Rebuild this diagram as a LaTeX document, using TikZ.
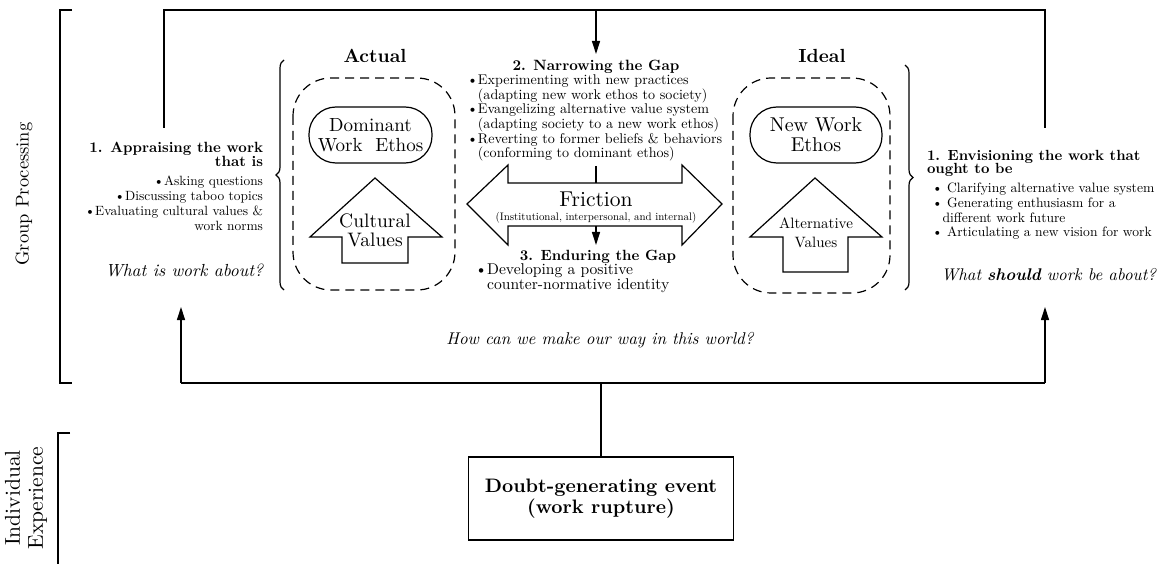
\documentclass[tikz,border=0pt]{standalone}
\usepackage{fontspec}
\setmainfont{lmroman10-regular.otf}[BoldFont=lmroman10-bold.otf,ItalicFont=lmroman10-italic.otf,BoldItalicFont=lmroman10-bolditalic.otf]
\usetikzlibrary{arrows.meta,decorations.pathreplacing}
\newcommand{\fsz}[2]{\fontsize{#1}{#2}\selectfont}
\begin{document}
\begin{tikzpicture}[x=1pt,y=-1pt,line width=1.2pt,
  tip/.style={-{Triangle[length=13pt,width=8pt]}},
  dashbox/.style={draw,dash pattern=on 9pt off 6pt,rounded corners=38pt},
  stadium/.style={draw,rounded corners=27pt},
  outline/.style={draw,line join=miter},
  txt/.style={inner sep=0pt,outer sep=0pt},
  brc/.style={decorate,decoration={brace,amplitude=8pt}}]
\useasboundingbox (0,0) rectangle (1162,564);

% side brackets and labels
\draw (72,10) -- (60,10) -- (60,383) -- (72,383);
\node[txt,rotate=90,font=\fsz{18.5}{22}] (gp) at (24,194) {Group Processing};
\draw (70,433) -- (58,433) -- (58,564);
\node[txt,rotate=90,align=center,font=\fsz{21.5}{23}] (ie) at (26,498) {Individual\\Experience};

% top loop
\coordinate (tl) at (164,128);
\coordinate (tlu) at (164,10);
\coordinate (tr) at (1045,128);
\coordinate (tru) at (1045,10);
\coordinate (tm) at (596,10);
\coordinate (tmend) at (596,54);
\draw (tl) -- (tlu) -- (tru) -- (tr);
\draw[tip] (tm) -- (tmend);

% bottom line and arrows
\coordinate (bl) at (181,383);
\coordinate (br) at (1045,383);
\coordinate (blup) at (181,307);
\coordinate (brup) at (1045,307);
\draw (bl) -- (br);
\draw[tip] (bl) -- (blup);
\draw[tip] (br) -- (brup);

% doubt box
\node[draw,minimum width=265pt,minimum height=83pt,align=center,
      font=\bfseries\fsz{19.5}{21}] (doubt) at (601,498.5) {Doubt-generating event\\(work rupture)};
\draw (doubt.north) -- (doubt.north |- bl);

\node[txt,font=\itshape\fsz{17}{19}] (how) at (600,340) {How can we make our way in this world?};

% left text block
\node[txt,anchor=north east,align=right,font=\bfseries\fsz{14.8}{14.5}] (lt) at (263,142)
  {1. Appraising the work\\that is};
\node[txt,anchor=north east,align=right,font=\fsz{13.4}{15}] (lb) at (263,176)
  {\textbullet Asking questions\\\textbullet Discussing taboo topics\\\textbullet Evaluating cultural values \&\\work norms};
\node[txt,anchor=north east,font=\itshape\fsz{17.5}{19}] (lq) at (263,264) {What is work about?};

% left brace
\draw[brc] (284,290) -- (284,60);

% Actual
\node[txt,font=\bfseries\fsz{19}{20}] (actual) at (375,56) {Actual};
\draw[dashbox] (293,78) rectangle (455,290);
\draw[stadium] (309,107) rectangle (432,163);
\node[txt,align=center,font=\fsz{19}{20}] (dwe) at (370.5,135) {Dominant\\Work\ \ Ethos};
\draw[outline] (375,178) -- (442,237) -- (408,237) -- (408,263) -- (342,263) -- (342,237) -- (310,237) -- cycle;
\node[txt,align=center,font=\fsz{19.5}{19}] (cv) at (375,230) {Cultural\\Values};

% Ideal
\node[txt,font=\bfseries\fsz{19}{20}] (ideal) at (822,56) {Ideal};
\draw[dashbox] (733,78) rectangle (890,293);
\draw[stadium] (750,107) rectangle (882,163);
\node[txt,align=center,font=\fsz{20}{20}] (nwe) at (816,135) {New Work\\Ethos};
\draw[outline] (815,178) -- (882,237) -- (848,237) -- (848,272) -- (783,272) -- (783,237) -- (750,237) -- cycle;
\node[txt,align=center,font=\fsz{15}{19}] (av) at (816,233) {Alternative\\Values};

% right brace
\draw[brc] (905,65) -- (905,290);

% right text block
\node[txt,anchor=north west,align=left,font=\bfseries\fsz{14.7}{13.5}] (rt) at (927,150)
  {1. Envisioning the work that\\ought to be};
\node[txt,anchor=north west,align=left,font=\fsz{13.6}{14.8}] (rb) at (932,183)
  {\textbullet\ Clarifying alternative value system\\\textbullet\ Generating enthusiasm for a\\\hphantom{\textbullet}different work future\\\textbullet\ Articulating a new vision for work};
\node[txt,anchor=north east,font=\itshape\fsz{16.9}{18}] (rq) at (1156,268) {What \textbf{should} work be about?};

% middle: narrowing
\node[txt,font=\bfseries\fsz{14.9}{16}] (ng) at (596,67) {2. Narrowing the Gap};
\node[txt,anchor=north west,align=left,font=\fsz{14.1}{14.6}] (nb) at (467,75)
  {\textbullet Experimenting with new practices\\\hphantom{\textbullet}(adapting new work ethos to society)\\
   \textbullet Evangelizing alternative value system\\\hphantom{\textbullet}(adapting society to a new work ethos)\\
   \textbullet Reverting to former beliefs \& behaviors\\\hphantom{\textbullet}(conforming to dominant ethos)};

% friction double arrow
\draw[outline] (467,204) -- (508,165) -- (508,183) -- (682,183) -- (682,165) -- (722,204)
   -- (682,245) -- (682,226) -- (508,226) -- (508,245) -- cycle;
\node[txt,font=\fsz{21.5}{22}] (fr) at (596,199) {Friction};
\node[txt,font=\fsz{10.9}{11}] (frs) at (596,218) {(Institutional, interpersonal, and internal)};
\coordinate (fa) at (596,166);
\coordinate (fb) at (596,183);
\coordinate (fc) at (596,226);
\coordinate (fd) at (596,245);
\draw (fa) -- (fb);
\draw[tip] (fc) -- (fd);

% middle: enduring
\node[txt,font=\bfseries\fsz{14.8}{16}] (eg) at (598,257) {3. Enduring the Gap};
\node[txt,anchor=north west,align=left,font=\fsz{15.6}{15}] (eb) at (475,264)
  {\textbullet Developing a positive\\\hphantom{\textbullet}counter-normative identity};
\end{tikzpicture}
\end{document}
